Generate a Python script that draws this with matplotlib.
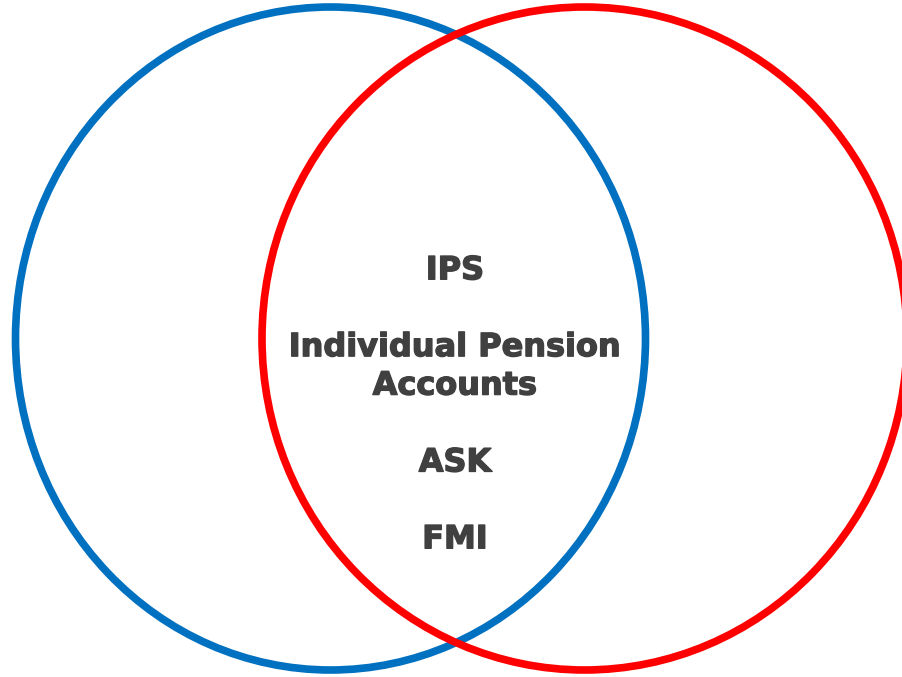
import matplotlib
matplotlib.use("Agg")
import matplotlib.pyplot as plt
from matplotlib.patches import Ellipse
import matplotlib.patheffects as pe

# Data: items in the intersection of the two sets
items = ["IPS", "Individual Pension\nAccounts", "ASK", "FMI"]
set_colors = ["#0070C0", "#FF0000"]

W, H, DPI = 903, 677, 100
fig = plt.figure(figsize=(W / DPI, H / DPI), dpi=DPI)
ax = fig.add_axes([0, 0, 1, 1])
ax.set_xlim(0, W)
ax.set_ylim(H, 0)
ax.axis("off")

# circle geometry (pixel space)
shapes = [(330.5, 338.5, 2 * 315, 2 * 331.5), (584.5, 338.5, 2 * 322.5, 2 * 331.5)]
for (cx, cy, w, h), col in zip(shapes, set_colors):
    ax.add_patch(Ellipse((cx, cy), w, h, fill=False, edgecolor=col, linewidth=5.5))

# text lines with blank lines between items
lines = []
for i, it in enumerate(items):
    if i:
        lines.append("")
    lines.extend(it.split("\n"))
base0, step = 279.3, 38.43
for k, ln in enumerate(lines):
    if ln:
        ax.text(455, base0 + k * step, ln, ha="center", va="baseline",
                fontsize=23, fontweight="bold", color="#404040",
                family="DejaVu Sans",
                path_effects=[pe.withStroke(linewidth=1.0, foreground="#404040")])

fig.savefig("out.png", dpi=DPI)
